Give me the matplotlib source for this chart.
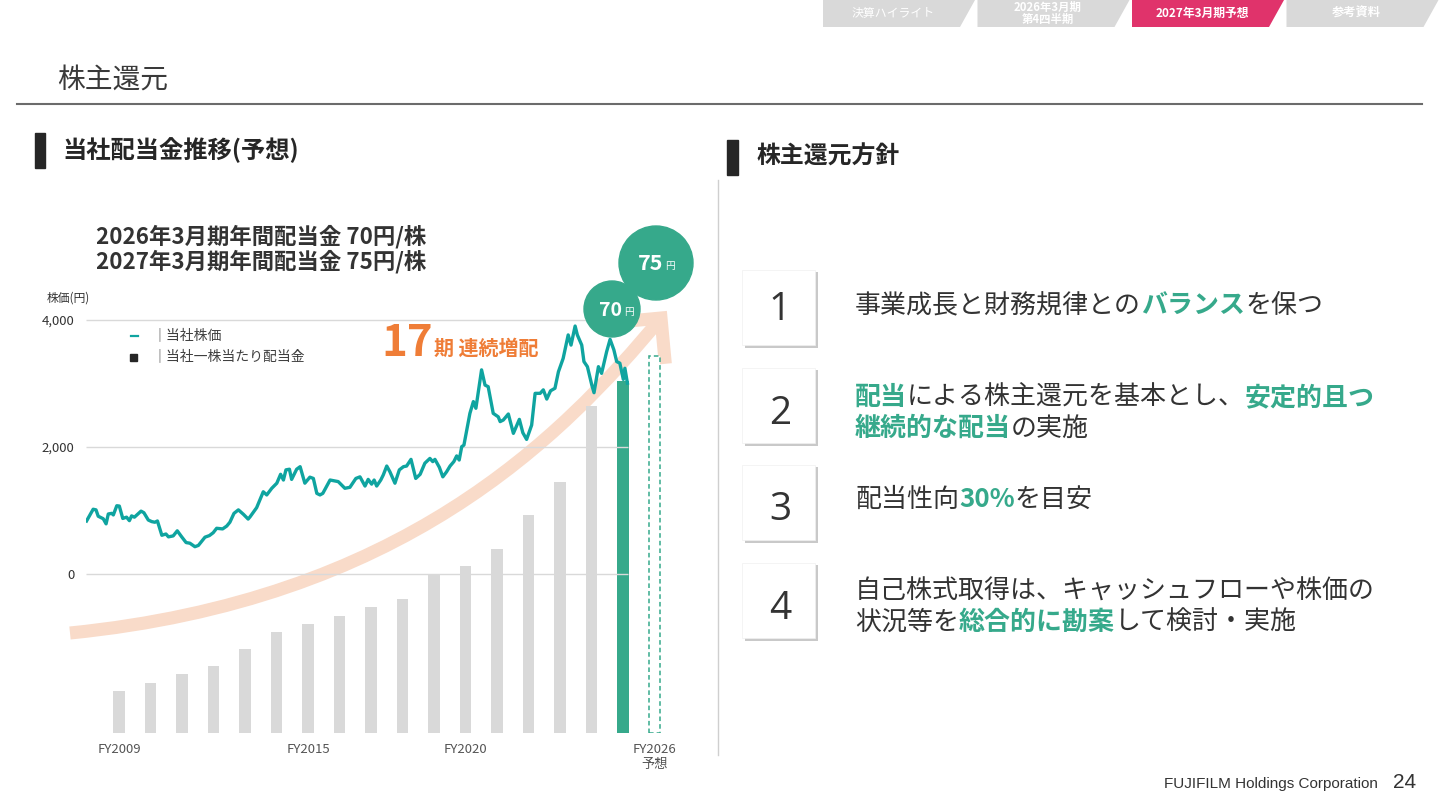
import numpy as np
import matplotlib
matplotlib.use("Agg")
import matplotlib.pyplot as plt
from matplotlib.patches import Rectangle, Polygon, Circle, PathPatch
from matplotlib.path import Path
from matplotlib.lines import Line2D

plt.rcParams['font.family'] = ['Noto Sans CJK JP', 'DejaVu Sans']

# ---- data ----
fiscal_years = list(range(2009, 2027))
dividends = [8.3, 10, 11.7, 13.3, 16.7, 20, 21.7, 23.3, 25, 26.7,
             31.7, 33.3, 36.7, 43.3, 50, 65, 70, 75]   # 円 / 株 (split adjusted)
x_tick_years = [2009, 2015, 2020, 2026]
x_tick_labels = ["FY2009", "FY2015", "FY2020", "FY2026\n予想"]
price_ticks = [0, 2000, 4000]

stock_t = [2007.97, 2008.18, 2008.27, 2008.34, 2008.50, 2008.59, 2008.66, 2008.77, 2008.82, 2008.93,
           2009.01, 2009.12, 2009.24, 2009.33, 2009.40, 2009.49, 2009.70, 2009.79, 2009.93, 2010.04,
           2010.14, 2010.22, 2010.36, 2010.49, 2010.57, 2010.72, 2010.85, 2010.99, 2011.13, 2011.25,
           2011.41, 2011.52, 2011.73, 2011.87, 2011.99, 2012.10, 2012.29, 2012.42, 2012.52, 2012.65,
           2012.79, 2012.95, 2013.10, 2013.16, 2013.37, 2013.58, 2013.69, 2013.85, 2014.01, 2014.13,
           2014.22, 2014.30, 2014.41, 2014.48, 2014.64, 2014.75, 2014.90, 2015.06, 2015.17, 2015.28,
           2015.38, 2015.47, 2015.70, 2015.96, 2016.17, 2016.33, 2016.52, 2016.65, 2016.81, 2016.91,
           2017.02, 2017.10, 2017.18, 2017.31, 2017.39, 2017.50, 2017.60, 2017.76, 2017.90, 2018.03,
           2018.13, 2018.27, 2018.42, 2018.56, 2018.71, 2018.87, 2018.96, 2019.03, 2019.17, 2019.28,
           2019.40, 2019.51, 2019.63, 2019.72, 2019.80, 2019.88, 2019.95, 2020.04, 2020.14, 2020.25,
           2020.33, 2020.51, 2020.62, 2020.72, 2020.88, 2021.04, 2021.10, 2021.20, 2021.36, 2021.52,
           2021.71, 2021.82, 2021.94, 2022.10, 2022.21, 2022.37, 2022.47, 2022.58, 2022.70, 2022.84,
           2022.95, 2023.10, 2023.26, 2023.35, 2023.48, 2023.55, 2023.69, 2023.76, 2023.87, 2024.01,
           2024.08, 2024.22, 2024.32, 2024.48, 2024.59, 2024.71, 2024.80, 2024.90, 2025.01, 2025.06,
           2025.14]
stock_price = [835, 1020, 1010, 910, 870, 790, 945, 955, 930, 1075,
               1070, 875, 895, 840, 915, 895, 990, 965, 850, 825,
               815, 835, 610, 630, 585, 600, 680, 585, 495, 485,
               430, 450, 580, 605, 650, 720, 710, 755, 815, 955,
               1010, 940, 865, 900, 1045, 1295, 1245, 1350, 1430, 1570,
               1480, 1640, 1650, 1490, 1650, 1690, 1430, 1525, 1505, 1270,
               1245, 1270, 1480, 1455, 1350, 1365, 1505, 1530, 1385, 1490,
               1415, 1480, 1385, 1480, 1560, 1700, 1610, 1430, 1640, 1690,
               1700, 1805, 1505, 1570, 1745, 1820, 1770, 1805, 1680, 1530,
               1610, 1700, 1770, 1860, 1795, 2005, 2030, 2270, 2530, 2715,
               2610, 3215, 2975, 2950, 2530, 2475, 2400, 2425, 2520, 2215,
               2435, 2225, 2120, 2345, 2845, 2845, 2900, 2755, 2885, 2925,
               3185, 3395, 3765, 3605, 3905, 3765, 3605, 3345, 3265, 2975,
               2855, 3265, 3160, 3500, 3695, 3530, 3345, 3320, 3065, 3240,
               3005]

policy_items = [
    [("事業成長と財務規律との", False), ("バランス", True), ("を保つ", False)],
    [("配当", True), ("による株主還元を基本とし、", False), ("安定的且つ", True)],
    [("継続的な配当", True), ("の実施", False)],
    [("配当性向", False), ("30%", True), ("を目安", False)],
    [("自己株式取得は、キャッシュフローや株価の", False)],
    [("状況等を", False), ("総合的に勘案", True), ("して検討・実施", False)],
]

tabs = ["決算ハイライト", "2026年3月期\n第4四半期", "2027年3月期予想", "参考資料"]

GRAY = "#d9d9d9"
GREEN = "#36a98b"
TEAL = "#0fa4a0"
ORANGE = "#ef7d37"
PINK = "#e0336b"
PEACH = "#f9dbc9"
DARK = "#333333"

W, H = 1440, 810
fig = plt.figure(figsize=(W / 100, H / 100), dpi=100)
T = fig.dpi_scale_trans


def P(x, y):
    # slide pixel (top-left origin) -> inches
    return (x / 100, (H - y) / 100)


def txt(x, y, s, **kw):
    return fig.text(*P(x, y), s, transform=T, **kw)


# ---- header tabs ----
tab_sizes = [8.6, 8.2, 8.5, 8.8]
for i, name in enumerate(tabs):
    x0 = 823 + i * 154.5
    col = PINK if i == 2 else GRAY
    fig.patches.append(Polygon([P(x0, 0), P(x0 + 152, 0), P(x0 + 137, 27), P(x0, 27)],
                               closed=True, transform=T, facecolor=col, edgecolor='none'))
    txt(x0 + 70, 13.5, name, ha='center', va='center', color='white',
        fontsize=tab_sizes[i], fontweight='normal' if i == 0 else 'bold',
        linespacing=0.95)

# ---- title ----
txt(57, 80, "株主還元", fontsize=20, color='#3a3a3a', va='center')
fig.lines.append(Line2D([17 / 100, 1422 / 100], [(H - 104) / 100] * 2, transform=T,
                        color='#6b6b6b', lw=1.5))

# section headers
fig.patches.append(Rectangle(P(35, 168), 0.10, 0.35, transform=T, color='#262626'))
txt(62, 150, "当社配当金推移(予想)", fontsize=17.5, fontweight='bold', color='#262626', va='center')
fig.patches.append(Rectangle(P(727, 175), 0.11, 0.35, transform=T, color='#262626'))
txt(757, 157, "株主還元方針", fontsize=17.2, fontweight='bold', color='#262626', va='center')
fig.lines.append(Line2D([718 / 100] * 2, [(H - 180) / 100, (H - 755) / 100], transform=T,
                        color='#cfcfcf', lw=1))

# ---- chart ----
def yr(px):
    return 2009 + (px - 119) / 31.5


rect = [86 / W, (H - 733) / H, (680 - 86) / W, (733 - 220) / H]
ax_b = fig.add_axes(rect)
ax_b.set_xlim(yr(86), yr(680))
ax_b.set_ylim(0, 75 * (733 - 220) / (733 - 356))
ax_b.bar(fiscal_years[:-1], dividends[:-1], width=0.35,
         color=[GRAY] * (len(dividends) - 2) + [GREEN], zorder=3)
ax_b.bar(fiscal_years[-1:], dividends[-1:], width=0.36, facecolor='white',
         edgecolor=GREEN, linestyle=(0, (3, 2)), lw=1.1, zorder=3)
ax_b.axis('off')

# growth arrow
p0, p1, p2, p3 = (70, 633), (400, 600), (560, 440), (661, 318)
curve = Path([P(*p0), P(*p1), P(*p2), P(*p3)],
             [Path.MOVETO, Path.CURVE4, Path.CURVE4, Path.CURVE4])
ax_b.add_patch(PathPatch(curve, transform=T, fill=False, edgecolor=PEACH, lw=9.4,
                         capstyle='butt', clip_on=False, zorder=1))
d = np.array(p3, float) - np.array(p2, float)
r = -d / np.hypot(*d)
wings = []
for a in (np.radians(45), -np.radians(45)):
    c, s = np.cos(a), np.sin(a)
    v = np.array([r[0] * c - r[1] * s, r[0] * s + r[1] * c])
    wings.append(np.array(p3) + 46 * v)
head = Path([P(*wings[0]), P(*p3), P(*wings[1])], [Path.MOVETO, Path.LINETO, Path.LINETO])
ax_b.add_patch(PathPatch(head, transform=T, fill=False, edgecolor=PEACH, lw=9.4,
                         capstyle='butt', joinstyle='miter', clip_on=False, zorder=1))

ax_s = fig.add_axes(rect, sharex=ax_b)
ax_s.patch.set_alpha(0)
ax_s.set_ylim((574 - 733) / 127 * 2000, (574 - 220) / 127 * 2000)
ax_s.hlines(price_ticks, yr(86), yr(628), color='#d9d9d9', lw=1, zorder=1)
ax_s.plot(stock_t, stock_price, color=TEAL, lw=2.4, solid_joinstyle='round', zorder=4)
ax_s.set_yticks(price_ticks, labels=[f"{v:,}" for v in price_ticks])
ax_s.set_xticks(x_tick_years, labels=x_tick_labels)
ax_s.tick_params(axis='y', length=0, pad=8.5, labelsize=9.5, labelcolor=DARK)
ax_s.tick_params(axis='x', length=0, pad=7, labelsize=9.5, labelcolor='#555555')
for sp in ax_s.spines.values():
    sp.set_visible(False)

txt(47, 298, "株価(円)", fontsize=8.5, color=DARK, va='center')

# legend
fig.lines.append(Line2D([131 / 100, 138 / 100], [(H - 336) / 100] * 2, transform=T, color=TEAL, lw=1.6))
txt(152, 336, "｜当社株価", fontsize=10, color='#404040', va='center')
fig.patches.append(Rectangle(P(130, 361), 0.07, 0.07, transform=T, color='#262626'))
txt(152, 357, "｜当社一株当たり配当金", fontsize=10, color='#404040', va='center')

# headline texts
txt(96, 237, "2026年3月期年間配当金 70円/株", fontsize=16.1, fontweight='bold', color=DARK, va='center')
txt(96, 262, "2027年3月期年間配当金 75円/株", fontsize=16.1, fontweight='bold', color=DARK, va='center')
txt(381, 356, "17", fontsize=31.5, fontweight='bold', color=ORANGE, va='baseline')
txt(434, 355, "期 連続増配", fontsize=14.4, fontweight='bold', color=ORANGE, va='baseline')

# dividend bubbles: (centre x, centre y, radius, value, size, number dx, yen dx)
for (cx, cy, rad, val, fs, ndx, ydx) in [(612, 309, 28, "70", 14, -1.5, 12.5),
                                         (656, 263, 37, "75", 15.5, -5, 9)]:
    fig.patches.append(Circle(P(cx, cy), rad / 100, transform=T, color=GREEN, zorder=5))
    txt(cx + ndx, cy + 1, val, fontsize=fs, fontweight='bold', color='white',
        ha='center', va='center', zorder=6)
    txt(cx + ydx, cy + 3, "円", fontsize=7, color='white',
        ha='left', va='center', zorder=6)

# ---- policy list ----
renderer = fig.canvas.get_renderer()


def rich(x, y_base, parts, size=18.7):
    for s, hl in parts:
        t = txt(x, y_base, s, fontsize=size, va='baseline', ha='left',
                color=GREEN if hl else DARK, fontweight='bold' if hl else 'normal')
        x += t.get_window_extent(renderer).width


box_centers = [308, 406, 503, 601]
digit_baselines = [320, 424, 520, 619]
for n, (cy, yb) in enumerate(zip(box_centers, digit_baselines)):
    fig.patches.append(Rectangle(P(745, cy + 40), 0.73, 0.76, transform=T,
                                 facecolor='#c9c9c9', edgecolor='none'))
    fig.patches.append(Rectangle(P(742, cy + 37), 0.73, 0.75, transform=T,
                                 facecolor='white', edgecolor='#f0f0f0', lw=0.5))
    txt(780, yb, str(n + 1), fontsize=28, color=DARK, ha='center', va='baseline',
        family=['Open Sans', 'DejaVu Sans'])

line_baselines = [313, 405, 436, 507, 599, 630]
for parts, yb in zip(policy_items, line_baselines):
    rich(855, yb, parts)

# footer
txt(1378, 784, "FUJIFILM Holdings Corporation", fontsize=11, color=DARK, ha='right',
    va='center', family=['Liberation Sans', 'DejaVu Sans'])
txt(1393, 783, "24", fontsize=15, color=DARK, ha='left', va='center',
    family=['Liberation Sans', 'DejaVu Sans'])

fig.savefig("out.png", dpi=100)
